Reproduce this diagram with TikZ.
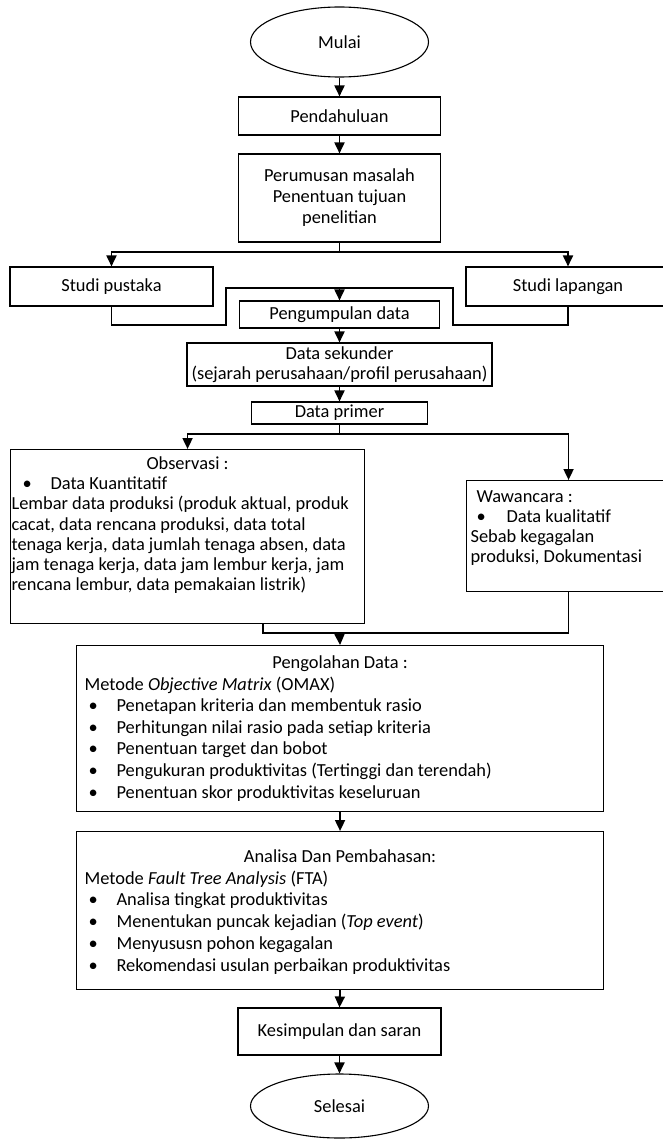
\documentclass[tikz,border=0pt]{standalone}
\usepackage{fontspec}
\setmainfont{Carlito}
\usetikzlibrary{arrows.meta,shapes.geometric}
\newcommand\bxt[5]{\begin{minipage}[c][#2][t]{#1}\fontsize{18.4}{#4}\selectfont\raggedright\parindent=0pt\vspace*{#3}#5\end{minipage}}
\newcommand\bul[2]{\strut\hspace*{#1}\makebox[\dimexpr40pt-#1\relax][l]{\textbullet}#2}
\newcommand\ctr[1]{\strut\makebox[\linewidth]{#1}}
\newcommand\lft[2]{\strut\hspace*{#1}#2}
\begin{document}
\begin{tikzpicture}[x=1pt,y=-1pt,
  font=\fontsize{18.4}{21.6}\selectfont,
  box/.style={draw, line width=1.1pt, inner sep=0pt},
  oval/.style={draw, ellipse, line width=1.1pt, inner sep=0pt},
  conn/.style={line width=1.8pt},
  arr/.style={conn, -{Triangle[length=11pt,width=10pt]}}]
\useasboundingbox (0,0) rectangle (663,1140);

\node[oval, minimum width=178pt, minimum height=70pt] (mulai) at (339.5,42) {Mulai};
\node[box, minimum width=202pt, minimum height=38pt] (pend) at (339.5,116) {Pendahuluan};
\node[box, minimum width=202pt, minimum height=88pt, align=center, font=\fontsize{18.4}{21}\selectfont] (perum) at (339.5,198) {Perumusan masalah\\Penentuan tujuan\\penelitian};
\node[box, minimum width=203pt, minimum height=39pt] (spust) at (111.5,286.5) {Studi pustaka};
\node[box, minimum width=204pt, minimum height=39pt] (slap) at (568,286.5) {Studi lapangan};
\node[box, minimum width=200pt, minimum height=27pt] (pengum) at (339.5,314.5) {Pengumpulan data};
\node[box, minimum width=305pt, minimum height=43pt, align=center, font=\fontsize{18.4}{19.5}\selectfont] (dsek) at (339.5,364.5) {Data sekunder\\(sejarah perusahaan/profil perusahaan)};
\node[box, minimum width=176pt, minimum height=22pt] (dprim) at (339.5,413) {Data primer};

\node[box, anchor=north west] (obs) at (10,449) {\bxt{354pt}{174pt}{5.9pt}{20.2pt}{%
\ctr{Observasi :}\\
\bul{12pt}{Data Kuantitatif}\\
\lft{1pt}{Lembar data produksi (produk aktual, produk}\\
\lft{1pt}{cacat, data rencana produksi, data total}\\
\lft{1pt}{tenaga kerja, data jumlah tenaga absen, data}\\
\lft{1pt}{jam tenaga kerja, data jam lembur kerja, jam}\\
\lft{1pt}{rencana lembur, data pemakaian listrik)}}};

\node[box, anchor=north west] (waw) at (466,480) {\bxt{204pt}{111pt}{8pt}{20pt}{%
\lft{10pt}{Wawancara :}\\
\bul{10pt}{Data kualitatif}\\
\lft{4pt}{Sebab kegagalan}\\
\lft{4pt}{produksi, Dokumentasi}}};

\node[box, anchor=north west] (pengol) at (76,645) {\bxt{527pt}{166pt}{7.9pt}{21.6pt}{%
\ctr{Pengolahan Data :}\\
\lft{8pt}{Metode \textit{Objective Matrix} (OMAX)}\\
\bul{12pt}{Penetapan kriteria dan membentuk rasio}\\
\bul{12pt}{Perhitungan nilai rasio pada setiap kriteria}\\
\bul{12pt}{Penentuan target dan bobot}\\
\bul{12pt}{Pengukuran produktivitas (Tertinggi dan terendah)}\\
\bul{12pt}{Penentuan skor produktivitas keseluruan}}};

\node[box, anchor=north west] (anal) at (76,831) {\bxt{527pt}{158pt}{15.8pt}{21.7pt}{%
\ctr{Analisa Dan Pembahasan:}\\
\lft{8pt}{Metode \textit{Fault Tree Analysis} (FTA)}\\
\bul{12pt}{Analisa tingkat produktivitas}\\
\bul{12pt}{Menentukan puncak kejadian (\textit{Top event})}\\
\bul{12pt}{Menyususn pohon kegagalan}\\
\bul{12pt}{Rekomendasi usulan perbaikan produktivitas}}};

\node[box, minimum width=203pt, minimum height=47pt] (kes) at (339.5,1031.5) {Kesimpulan dan saran};
\node[oval, minimum width=178pt, minimum height=64pt] (selesai) at (339.5,1106) {Selesai};

% connectors
\draw[arr] (mulai.south) -- (pend.north);
\draw[arr] (pend.south) -- (perum.north);
\coordinate (j1) at (339.5,252);
\draw[conn] (perum.south) -- (j1);
\draw[arr] (j1) -| (spust.north);
\draw[arr] (j1) -| (slap.north);
\coordinate (m1) at (339.5,288);
\coordinate (ml) at (226,325);
\coordinate (mr) at (453,325);
\draw[conn] (spust.south) |- (ml) |- (m1);
\draw[conn] (slap.south) |- (mr) |- (m1);
\draw[arr] (m1) -- (pengum.north);
\draw[arr] (pengum.south) -- (dsek.north);
\draw[arr] (dsek.south) -- (dprim.north);
\coordinate (j2) at (339.5,434);
\draw[conn] (dprim.south) -- (j2);
\draw[arr] (j2) -| (obs.north);
\draw[arr] (j2) -| (waw.north);
\coordinate (o1) at (263,623);
\coordinate (m2) at (339.5,633);
\draw[conn] (o1) |- (m2) -| (waw.south);
\draw[arr] (m2) -- (pengol.north);
\draw[arr] (pengol.south) -- (anal.north);
\draw[arr] (anal.south) -- (kes.north);
\draw[arr] (kes.south) -- (selesai.north);
\end{tikzpicture}
\end{document}
